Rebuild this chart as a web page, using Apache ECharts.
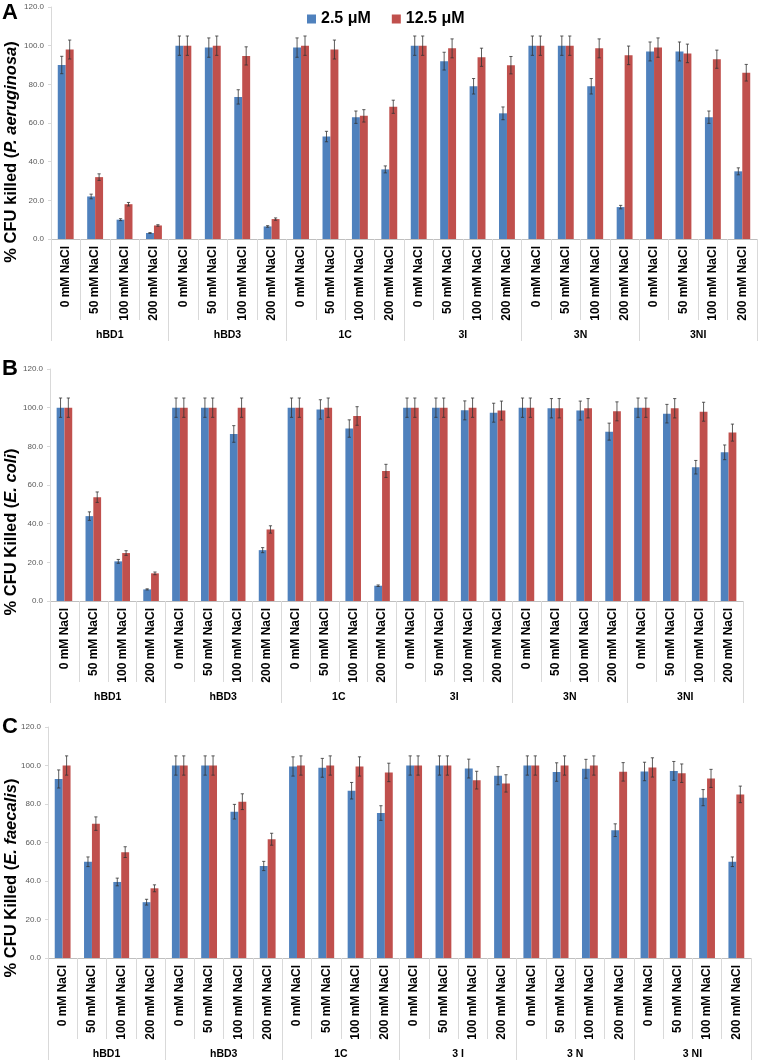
<!DOCTYPE html>
<html>
<head>
<meta charset="utf-8">
<script src="https://cdn.jsdelivr.net/npm/echarts@6/dist/echarts.min.js"></script>
<style>
html,body{margin:0;padding:0;background:#fff;}
#chart{width:760px;height:1063px;}
</style>
</head>
<body>
<div id="chart"></div>
<script>
// ---------- data ----------
const saltLabels = ['0 mM NaCl', '50 mM NaCl', '100 mM NaCl', '200 mM NaCl'];
const groupsA = ['hBD1', 'hBD3', '1C', '3I', '3N', '3NI'];
const groupsB = ['hBD1', 'hBD3', '1C', '3I', '3N', '3NI'];
const groupsC = ['hBD1', 'hBD3', '1C', '3 I', '3 N', '3 NI'];
const seriesNames = ['2.5 μM', '12.5 μM'];
const yTicks = [0, 20, 40, 60, 80, 100, 120];

// Panel A: P. aeruginosa
const aLow  = [90, 22, 10, 3.1,  100, 99, 73.5, 6.5,  99, 53, 63, 36,  100, 92, 79, 65,  100, 100, 79, 16.5,  97, 97, 63, 35];
const aHigh = [98, 32, 18, 7,    100, 100, 94.7, 10.3, 100, 98, 63.7, 68.4, 100, 98.6, 94, 89.9, 100, 100, 98.6, 95, 99, 96, 93, 86];
const aLowErr  = [4.5, 1.2, 0.5, 0.2, 5, 5, 3.7, 0.4, 5, 2.7, 3.2, 1.8, 5, 4.6, 4, 3.3, 5, 5, 4, 0.9, 4.9, 4.9, 3.2, 1.8];
const aHighErr = [4.9, 1.7, 0.9, 0.4, 5, 5, 4.7, 0.6, 5, 4.9, 3.2, 3.4, 5, 4.9, 4.7, 4.5, 5, 5, 4.9, 4.8, 5, 4.8, 4.7, 4.3];

// Panel B: E. coli
const bLow  = [100, 43.9, 20.5, 6,  100, 100, 86.4, 26.3,  100, 99.1, 89.2, 7.9,  100, 100, 98.6, 97.4,  100, 99.7, 98.5, 87.6,  100, 96.9, 69.2, 76.9];
const bHigh = [100, 53.7, 24.8, 14.3, 100, 100, 100, 37,  100, 100, 95.7, 67.3,  100, 100, 100, 98.5,  100, 99.7, 99.7, 98.1,  100, 99.7, 97.9, 87.1];
const bLowErr  = [5, 2.2, 1, 0.3, 5, 5, 4.3, 1.3, 5, 5, 4.5, 0.4, 5, 5, 4.9, 4.9, 5, 5, 4.9, 4.4, 5, 4.8, 3.5, 3.8];
const bHighErr = [5, 2.7, 1.2, 0.7, 5, 5, 5, 1.9, 5, 5, 4.8, 3.4, 5, 5, 5, 4.9, 5, 5, 5, 4.9, 5, 5, 4.9, 4.4];

// Panel C: E. faecalis
const cLow  = [93, 50, 39.5, 29,  100, 100, 76, 47.8,  99.5, 98.8, 86.9, 75.3,  100, 100, 98.4, 94.7,  100, 96.6, 98.3, 66.4,  96.9, 97.2, 83.3, 50];
const cHigh = [100, 69.8, 55, 36.2, 100, 100, 81.2, 61.7, 100, 100, 99.5, 96.4, 100, 100, 92.4, 90.7, 100, 100, 100, 96.7, 99, 96, 93.3, 85];
const cLowErr  = [4.7, 2.5, 2, 1.5, 5, 5, 3.8, 2.4, 5, 4.9, 4.3, 3.8, 5, 5, 4.9, 4.7, 5, 4.8, 4.9, 3.3, 4.8, 4.9, 4.2, 2.5];
const cHighErr = [5, 3.5, 2.8, 1.8, 5, 5, 4.1, 3.1, 5, 5, 5, 4.8, 5, 5, 4.6, 4.5, 5, 5, 5, 4.8, 5, 4.8, 4.7, 4.3];

// ---------- layout / style ----------
const FONT = '"Liberation Sans", Arial, sans-serif';
const BLUE = '#4F81BD', RED = '#C0504D';
const BAR_FRAC = 0.27;

const panels = [
  { grid: {left: 51, top: 7, width: 706, height: 232}, groups: groupsA, low: aLow, high: aHigh, lowErr: aLowErr, highErr: aHighErr,
    letter: 'A', letterY: 13, titlePre: '% CFU killed (', species: 'P. aeruginosa', titleY: 152 },
  { grid: {left: 50, top: 369, width: 693, height: 232}, groups: groupsB, low: bLow, high: bHigh, lowErr: bLowErr, highErr: bHighErr,
    letter: 'B', letterY: 369, titlePre: '% CFU Killed (', species: 'E. coli', titleY: 532 },
  { grid: {left: 48, top: 727, width: 703, height: 231}, groups: groupsC, low: cLow, high: cHigh, lowErr: cLowErr, highErr: cHighErr,
    letter: 'C', letterY: 727, titlePre: '% CFU Killed (', species: 'E. faecalis', titleY: 878 }
];

const subLabels = [];
groupsA.forEach(() => saltLabels.forEach(s => subLabels.push(s)));

const grids = [], xAxes = [], yAxes = [], series = [], graphics = [];

function errorSeries(pi, values, errs, side) {
  return {
    type: 'custom',
    xAxisIndex: pi * 2, yAxisIndex: pi,
    z: 5, silent: true,
    data: values.map((v, k) => [k, v, errs[k]]),
    encode: {x: 0, y: 1},
    renderItem: function (params, api) {
      const k = api.value(0), v = api.value(1), e = api.value(2);
      const band = api.size([1, 0])[0];
      const bw = band * BAR_FRAC;
      const c = api.coord([k, v]);
      const x = c[0] + side * bw / 2;
      const yTop = api.coord([k, v + e])[1];
      const yBot = api.coord([k, v - e])[1];
      const cap = 1.6;
      const st = {stroke: '#333', lineWidth: 0.8};
      return {
        type: 'group',
        children: [
          {type: 'line', shape: {x1: x, y1: yTop, x2: x, y2: yBot}, style: st},
          {type: 'line', shape: {x1: x - cap, y1: yTop, x2: x + cap, y2: yTop}, style: st},
          {type: 'line', shape: {x1: x - cap, y1: yBot, x2: x + cap, y2: yBot}, style: st}
        ]
      };
    }
  };
}

panels.forEach((p, i) => {
  grids.push(Object.assign({containLabel: false}, p.grid));
  xAxes.push({
    type: 'category', gridIndex: i, position: 'bottom', data: subLabels,
    axisLine: {show: true, lineStyle: {color: '#bfbfbf', width: 1}},
    axisTick: {show: true, interval: 0, length: 81, lineStyle: {color: '#d9d9d9'}},
    axisLabel: {interval: 0, rotate: 90, margin: 7, fontSize: 12, fontWeight: 'bold', color: '#000', fontFamily: FONT},
    splitLine: {show: false}
  });
  xAxes.push({
    type: 'category', gridIndex: i, position: 'bottom', data: p.groups,
    axisLine: {show: false},
    axisTick: {show: true, interval: 0, length: 102, lineStyle: {color: '#d9d9d9'}},
    axisLabel: {interval: 0, margin: 91, fontSize: 10.5, fontWeight: 'bold', color: '#000', fontFamily: FONT},
    splitLine: {show: false}
  });
  yAxes.push({
    type: 'value', gridIndex: i, min: yTicks[0], max: yTicks[yTicks.length - 1], interval: yTicks[1] - yTicks[0],
    axisLine: {show: true, lineStyle: {color: '#d9d9d9'}},
    axisTick: {show: true, length: 3, lineStyle: {color: '#d9d9d9'}},
    splitLine: {show: false},
    axisLabel: {formatter: v => v.toFixed(1), fontSize: 8, color: '#595959', margin: 7, fontFamily: FONT}
  });
  series.push({
    name: seriesNames[0], type: 'bar', xAxisIndex: i * 2, yAxisIndex: i,
    data: p.low, barWidth: (BAR_FRAC * 100) + '%', barGap: '0%',
    itemStyle: {color: BLUE}
  });
  series.push({
    name: seriesNames[1], type: 'bar', xAxisIndex: i * 2, yAxisIndex: i,
    data: p.high, barWidth: (BAR_FRAC * 100) + '%', barGap: '0%',
    itemStyle: {color: RED}
  });
  series.push(errorSeries(i, p.low, p.lowErr, -1));
  series.push(errorSeries(i, p.high, p.highErr, 1));

  graphics.push({
    type: 'text', x: 2, y: p.letterY, silent: true,
    style: {text: p.letter, font: 'bold 22px ' + FONT, fill: '#000', align: 'left', verticalAlign: 'middle', textAlign: 'left', textVerticalAlign: 'middle'}
  });
  graphics.push({
    type: 'text', x: 11, y: p.titleY, rotation: Math.PI / 2, silent: true,
    style: {
      text: '{b|' + p.titlePre + '}{i|' + p.species + '}{b|)}',
      rich: {
        b: {fontSize: 16.5, fontWeight: 'bold', fontFamily: FONT, fill: '#000', color: '#000'},
        i: {fontSize: 16.5, fontWeight: 'bold', fontStyle: 'italic', fontFamily: FONT, fill: '#000', color: '#000'}
      },
      align: 'center', verticalAlign: 'middle', textAlign: 'center', textVerticalAlign: 'middle'
    }
  });
});

const chart = echarts.init(document.getElementById('chart'), null, {renderer: 'canvas'});
chart.setOption({
  animation: false,
  backgroundColor: '#fff',
  textStyle: {fontFamily: FONT},
  legend: {
    data: seriesNames, left: 302, top: 6, icon: 'rect', itemWidth: 9, itemHeight: 9, itemGap: 21,
    textStyle: {fontSize: 16, fontWeight: 'bold', color: '#000', fontFamily: FONT}
  },
  grid: grids, xAxis: xAxes, yAxis: yAxes, series: series, graphic: graphics
});
</script>
</body>
</html>
